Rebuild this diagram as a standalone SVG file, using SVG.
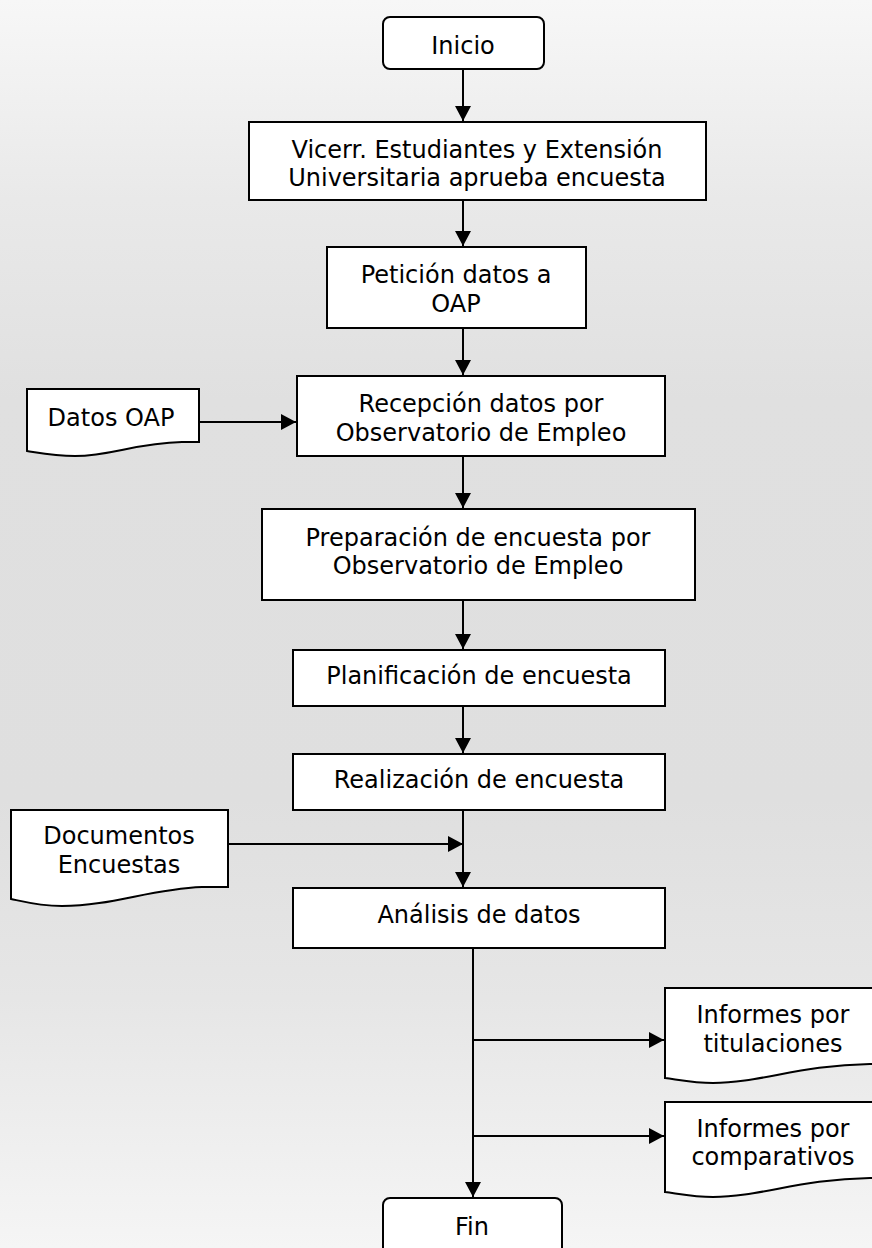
<svg xmlns="http://www.w3.org/2000/svg" width="872" height="1248" viewBox="0 0 872 1248">
<defs>
<linearGradient id="bg" x1="0" y1="0" x2="0" y2="1">
<stop offset="0" stop-color="#f7f7f7"/>
<stop offset="0.16" stop-color="#e9e9e9"/>
<stop offset="0.32" stop-color="#e0e0e0"/>
<stop offset="0.64" stop-color="#dfdfdf"/>
<stop offset="0.8" stop-color="#e6e6e6"/>
<stop offset="1" stop-color="#f5f5f5"/>
</linearGradient>
<marker id="arr" viewBox="0 0 15 16" refX="15" refY="8" markerWidth="15" markerHeight="16" markerUnits="userSpaceOnUse" orient="auto">
<path d="M0,0 L15,8 L0,16 Z" fill="#000"/>
</marker>
<style>
.box{fill:#fff;stroke:#000;stroke-width:2}
.t{font-family:"DejaVu Sans","Verdana",sans-serif;font-size:24px;fill:#000;text-anchor:middle}
.ln{fill:none;stroke:#000;stroke-width:2}
</style>
</defs>
<rect x="0" y="0" width="872" height="1248" fill="url(#bg)"/>

<g id="connectors">
<line class="ln" x1="463" y1="69" x2="463" y2="121" marker-end="url(#arr)"/>
<line class="ln" x1="463" y1="200" x2="463" y2="246" marker-end="url(#arr)"/>
<line class="ln" x1="463" y1="328" x2="463" y2="375" marker-end="url(#arr)"/>
<line class="ln" x1="199" y1="422" x2="296" y2="422" marker-end="url(#arr)"/>
<line class="ln" x1="463" y1="456" x2="463" y2="508" marker-end="url(#arr)"/>
<line class="ln" x1="463" y1="600" x2="463" y2="649" marker-end="url(#arr)"/>
<line class="ln" x1="463" y1="706" x2="463" y2="753" marker-end="url(#arr)"/>
<line class="ln" x1="228" y1="844" x2="463" y2="844" marker-end="url(#arr)"/>
<line class="ln" x1="463" y1="810" x2="463" y2="887" marker-end="url(#arr)"/>
<line class="ln" x1="473" y1="948" x2="473" y2="1197" marker-end="url(#arr)"/>
<line class="ln" x1="473" y1="1040" x2="664" y2="1040" marker-end="url(#arr)"/>
<line class="ln" x1="473" y1="1136" x2="664" y2="1136" marker-end="url(#arr)"/>
</g>

<g id="inicio">
<rect class="box" x="383" y="17" width="161" height="52" rx="7"/>
<text class="t" x="463" y="54">Inicio</text>
</g>

<g id="vicerr">
<rect class="box" x="249" y="122" width="457" height="78"/>
<text class="t" x="477" y="158">Vicerr. Estudiantes y Extensión</text>
<text class="t" x="477" y="186">Universitaria aprueba encuesta</text>
</g>

<g id="peticion">
<rect class="box" x="327" y="247" width="259" height="81"/>
<text class="t" x="456" y="283">Petición datos a</text>
<text class="t" x="456" y="312">OAP</text>
</g>

<g id="datos-oap">
<path class="box" d="M27,389 H199 V442 H182 C135,443 112,456 75,456 C55,456 40,453 27,451 Z"/>
<text class="t" x="111" y="426">Datos OAP</text>
</g>

<g id="recepcion">
<rect class="box" x="297" y="376" width="368" height="80"/>
<text class="t" x="481" y="412">Recepción datos por</text>
<text class="t" x="481" y="441">Observatorio de Empleo</text>
</g>

<g id="preparacion">
<rect class="box" x="262" y="509" width="433" height="91"/>
<text class="t" x="478" y="546">Preparación de encuesta por</text>
<text class="t" x="478" y="574">Observatorio de Empleo</text>
</g>

<g id="planificacion">
<rect class="box" x="293" y="650" width="372" height="56"/>
<text class="t" x="479" y="684">Planificación de encuesta</text>
</g>

<g id="realizacion">
<rect class="box" x="293" y="754" width="372" height="56"/>
<text class="t" x="479" y="788">Realización de encuesta</text>
</g>

<g id="documentos">
<path class="box" d="M11,810 H228 V887 H202 C150,889 112,906 62,906 C40,906 25,902 11,899 Z"/>
<text class="t" x="119" y="844">Documentos</text>
<text class="t" x="119" y="873">Encuestas</text>
</g>

<g id="analisis">
<rect class="box" x="293" y="888" width="372" height="60"/>
<text class="t" x="479" y="923">Análisis de datos</text>
</g>

<g id="informes-titulaciones">
<path class="box" d="M665,988 H885 V1064 H870 C800,1065 760,1083 713,1083 C695,1083 680,1080 665,1078 Z"/>
<text class="t" x="773" y="1023">Informes por</text>
<text class="t" x="773" y="1052">titulaciones</text>
</g>

<g id="informes-comparativos">
<path class="box" d="M665,1102 H885 V1178 H870 C800,1179 760,1197 713,1197 C695,1197 680,1194 665,1192 Z"/>
<text class="t" x="773" y="1137">Informes por</text>
<text class="t" x="773" y="1165">comparativos</text>
</g>

<g id="fin">
<rect class="box" x="383" y="1198" width="179" height="70" rx="7"/>
<text class="t" x="472" y="1235">Fin</text>
</g>
</svg>
